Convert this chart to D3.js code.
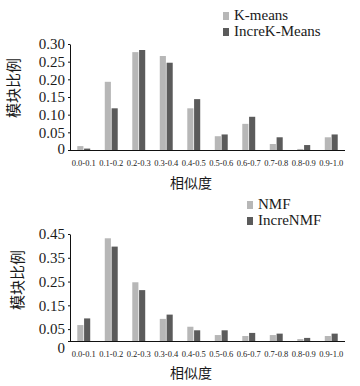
<!DOCTYPE html>
<html>
<head>
<meta charset="utf-8">
<script src="https://cdn.jsdelivr.net/npm/d3@7"></script>
<style>
  body { margin: 0; background: #fff; }
  svg text { font-family: "Liberation Serif", "DejaVu Serif", serif; fill: #1a1a1a; }
  svg text.cjk { font-family: "Noto Sans CJK SC", sans-serif; }
</style>
</head>
<body>
<div id="chart"></div>
<script>
// Similarity bins shared by both charts
var bins = ["0.0-0.1", "0.1-0.2", "0.2-0.3", "0.3-0.4", "0.4-0.5",
            "0.5-0.6", "0.6-0.7", "0.7-0.8", "0.8-0.9", "0.9-1.0"];

// Top chart: K-means vs IncreK-Means
var kmeansNames = ["K-means", "IncreK-Means"];
var kmeans = [0.011, 0.193, 0.277, 0.266, 0.118, 0.039, 0.074, 0.017, 0.003, 0.036];
var increKmeans = [0.004, 0.118, 0.283, 0.247, 0.144, 0.044, 0.094, 0.036, 0.014, 0.044];
var kmeansTicks = [0, 0.05, 0.10, 0.15, 0.20, 0.25, 0.30];

// Bottom chart: NMF vs IncreNMF
var nmfNames = ["NMF", "IncreNMF"];
var nmf = [0.067, 0.432, 0.247, 0.093, 0.060, 0.025, 0.021, 0.025, 0.008, 0.021];
var increNmf = [0.095, 0.397, 0.214, 0.111, 0.045, 0.045, 0.034, 0.031, 0.013, 0.031];
var nmfTicks = [0, 0.05, 0.15, 0.25, 0.35, 0.45];

var colors = ["#b7b7b7", "#5b5b5b"];

var svg = d3.select("#chart")
  .append("svg")
    .attr("width", 360)
    .attr("height", 386);

function drawChart(opts) {
  var g = svg.append("g");

  var x0 = d3.scaleBand()
    .domain(bins)
    .range([70, 345])
    .paddingInner(0.48)
    .paddingOuter(0.24);

  var x1 = d3.scaleBand()
    .domain([0, 1])
    .range([0, x0.bandwidth()])
    .padding(0.1);

  var y = d3.scaleLinear()
    .domain([0, opts.max])
    .range([opts.bottom, opts.top]);

  // bars
  var rows = bins.map(function(b, i) {
    return { bin: b, vals: [opts.a[i], opts.b[i]] };
  });
  g.append("g")
    .selectAll("g")
    .data(rows)
    .enter()
    .append("g")
      .attr("transform", function(d) { return "translate(" + x0(d.bin) + ",0)"; })
    .selectAll("rect")
    .data(function(d) { return d.vals.map(function(v, k) { return {k: k, v: v}; }); })
    .enter()
    .append("rect")
      .attr("x", function(d) { return x1(d.k); })
      .attr("y", function(d) { return y(d.v); })
      .attr("width", x1.bandwidth())
      .attr("height", function(d) { return opts.bottom - y(d.v); })
      .style("fill", function(d) { return colors[d.k]; });

  // x axis
  var xAxis = g.append("g")
    .attr("transform", "translate(0," + opts.bottom + ")")
    .attr("font-family", "Liberation Serif")
    .call(d3.axisBottom(x0).tickSize(0).tickSizeOuter(0).tickPadding(opts.xPad));
  xAxis.attr("font-family", "Liberation Serif").attr("font-size", "8.5px");
  xAxis.select(".domain").attr("stroke", "#111").attr("d", "M70,0.5H345");
  xAxis.selectAll("text").attr("fill", "#1a1a1a");

  // y axis
  var yAxis = g.append("g")
    .attr("transform", "translate(70,0)")
    .call(d3.axisLeft(y)
      .tickValues(opts.ticks)
      .tickSize(2)
      .tickSizeOuter(0)
      .tickPadding(3)
      .tickFormat(function(d) { return d === 0 ? "0" : d3.format(".2f")(d); }));
  yAxis.attr("font-family", "Liberation Serif").attr("font-size", "15px");
  yAxis.select(".domain").attr("stroke", "#111");
  yAxis.selectAll("line").attr("stroke", "#111");
  yAxis.selectAll(".tick").filter(function(d) { return d === 0; })
    .select("text").attr("dy", opts.zeroDy);

  // axis titles
  g.append("text")
    .attr("class", "cjk")
    .attr("text-anchor", "middle")
    .attr("x", 191)
    .attr("y", opts.xTitleY)
    .style("font-size", "14px")
    .text("相似度");

  g.append("text")
    .attr("class", "cjk")
    .attr("text-anchor", "middle")
    .attr("transform", "translate(" + opts.yTitleX + "," + opts.yTitleY + ") rotate(-90)")
    .style("font-size", "15px")
    .text("模块比例");

  // legend
  var leg = g.append("g");
  opts.names.forEach(function(name, k) {
    leg.append("rect")
      .attr("x", opts.legX)
      .attr("y", opts.legY + k * 16 - 8)
      .attr("width", 6)
      .attr("height", 8)
      .style("fill", colors[k]);
    leg.append("text")
      .attr("x", opts.legX + 11)
      .attr("y", opts.legY + k * 16)
      .style("font-size", "15px")
      .text(name);
  });
}

drawChart({
  a: kmeans, b: increKmeans, names: kmeansNames,
  max: 0.30, ticks: kmeansTicks,
  top: 44, bottom: 150, xPad: 10, zeroDy: "0.2em",
  xTitleY: 188, yTitleX: 19, yTitleY: 88,
  legX: 223, legY: 20
});

drawChart({
  a: nmf, b: increNmf, names: nmfNames,
  max: 0.45, ticks: nmfTicks,
  top: 234, bottom: 341, xPad: 10, zeroDy: "0.75em",
  xTitleY: 378, yTitleX: 23, yTitleY: 280,
  legX: 247, legY: 209
});
</script>
</body>
</html>
